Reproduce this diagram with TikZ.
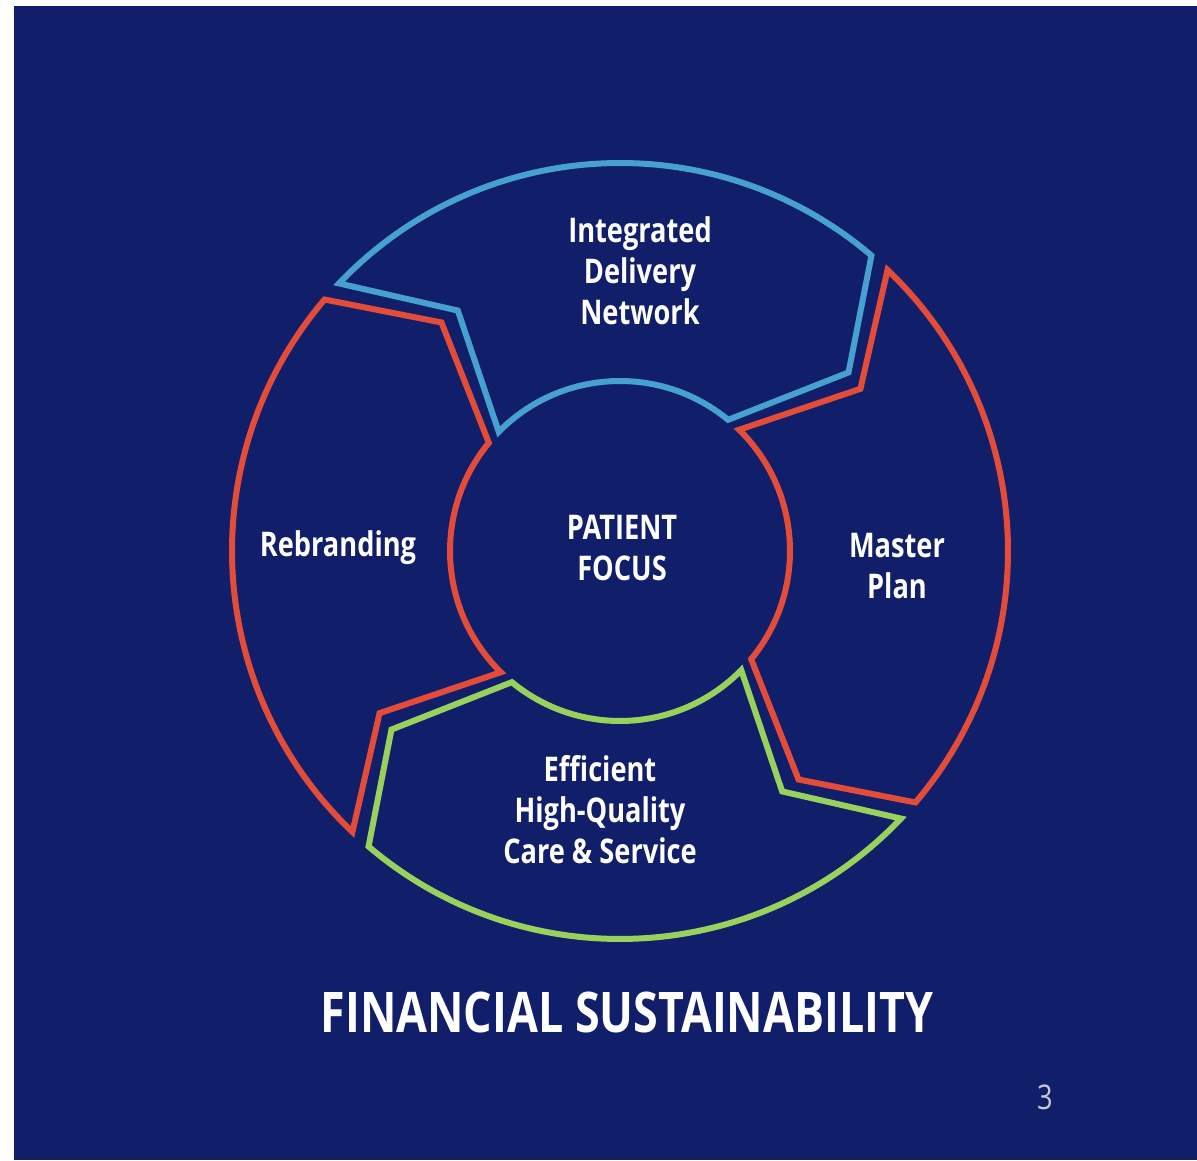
\documentclass[tikz,border=0pt]{standalone}
\usepackage{fontspec}
\setmainfont[FakeStretch=0.8]{Open Sans}
\usetikzlibrary{calc}

\definecolor{navy}{RGB}{17,31,106}
\definecolor{segblue}{RGB}{70,160,208}
\definecolor{segred}{RGB}{228,76,58}
\definecolor{seggreen}{RGB}{152,210,92}
\definecolor{pagegray}{RGB}{200,200,210}

% one arrow-shaped piece of the ring, #2 = angle of its tail gap
\newcommand{\cycleseg}[2]{%
  \draw[segline,#1] ($(c)+(#2-1.6:388pt)$) -- ($(c)+(#2-14:290pt)$) -- ($(c)+(#2-2.5:170pt)$)
    arc[start angle=#2-2.5, end angle=#2-87.5, radius=170pt]
    -- ($(c)+(#2-100:290pt)$) -- ($(c)+(#2-88.4:388pt)$)
    arc[start angle=#2-88.4, end angle=#2-1.6, radius=388pt] -- cycle;}

\tikzset{
  segline/.style={line width=6pt, line join=miter},
  seglabel/.style={text=white, align=center, font=\bfseries\fontsize{34}{41}\selectfont},
}

\begin{document}
\begin{tikzpicture}[x=1pt,y=1pt]
  \useasboundingbox (0,0) rectangle (1197,1160);
  \fill[white] (0,0) rectangle (1197,1160);
  \fill[navy] (14,0) rectangle (1197,1154);
  \coordinate (c) at (620,609);

  \cycleseg{segblue}{138}
  \cycleseg{segred}{48}
  \cycleseg{seggreen}{-42}
  \cycleseg{segred}{228}

  \node[seglabel] (idn) at (640,889) {Integrated\\Delivery\\Network};
  \node[seglabel] (plan) at (897,594) {Master\\Plan};
  \node[seglabel] (care) at (600,350) {Efficient\\High-Quality\\Care \& Service};
  \node[seglabel] (brand) at (338,612) {Rebranding};
  \node[seglabel] (focus) at (622,612) {PATIENT\\FOCUS};

  \node[text=white, font=\bfseries\fontsize{56}{60}\selectfont] (fin) at (627,148) {FINANCIAL SUSTAINABILITY};
  \node[text=pagegray, font=\fontsize{34}{40}\selectfont] (pnum) at (1045,63) {3};
\end{tikzpicture}
\end{document}
